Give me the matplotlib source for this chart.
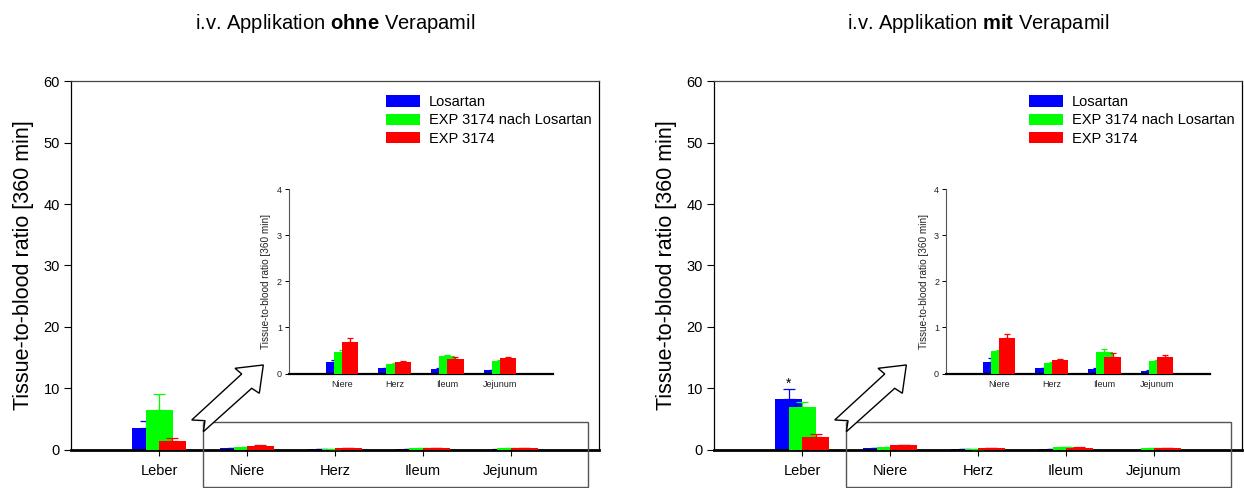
import numpy as np
import matplotlib
matplotlib.use('Agg')
import matplotlib.pyplot as plt
from matplotlib.patches import Polygon, Rectangle

plt.rcParams['font.family'] = ['Liberation Sans', 'DejaVu Sans']
plt.rcParams['mathtext.fontset'] = 'custom'
plt.rcParams['mathtext.rm'] = 'Liberation Sans'
plt.rcParams['mathtext.bf'] = 'Liberation Sans:bold'

organe = ['Leber', 'Niere', 'Herz', 'Ileum', 'Jejunum']
serien = ['Losartan', 'EXP 3174 nach Losartan', 'EXP 3174']
farben = ['#0000ff', '#00ff00', '#ff0000']

# i.v. ohne Verapamil
ohne_losartan = [3.5, 0.25, 0.11, 0.10, 0.07]
ohne_losartan_err = [1.2, 0.04, 0.02, 0.01, 0.01]
ohne_exp_nach = [6.5, 0.47, 0.20, 0.37, 0.27]
ohne_exp_nach_err = [2.6, 0.03, 0.02, 0.03, 0.02]
ohne_exp = [1.5, 0.69, 0.25, 0.31, 0.33]
ohne_exp_err = [0.45, 0.08, 0.02, 0.04, 0.03]

# i.v. mit Verapamil
mit_losartan = [8.3, 0.26, 0.12, 0.10, 0.06]
mit_losartan_err = [1.6, 0.07, 0.01, 0.01, 0.01]
mit_exp_nach = [7.0, 0.48, 0.22, 0.46, 0.27]
mit_exp_nach_err = [0.8, 0.03, 0.02, 0.08, 0.03]
mit_exp = [2.1, 0.78, 0.29, 0.36, 0.36]
mit_exp_err = [0.5, 0.07, 0.03, 0.08, 0.04]

ylabel = 'Tissue-to-blood ratio [360 min]'
breite = 0.307
versatz = [-0.153, 0.0, 0.153]

# Pfeil (Achsenkoordinaten) und Rahmen um die kleinen Werte
pfeil = [(0.3642, 0.2304), (0.3106, 0.2214), (0.3233, 0.2060), (0.2286, 0.0813),
         (0.2538, 0.0794), (0.2506, 0.0496), (0.3422, 0.1672), (0.3566, 0.1537)]


def balken(ax, x, werte, fehler, fs_cap):
    for i, (w, f) in enumerate(zip(werte, fehler)):
        z = 2 + i
        ax.bar(np.asarray(x) + versatz[i], w, breite, color=farben[i], label=serien[i],
               zorder=z, yerr=[np.zeros(len(f)), f],
               error_kw=dict(ecolor=farben[i], elinewidth=0.9, capsize=fs_cap,
                             capthick=0.9, zorder=z + 0.5))


def panel(links, ins_links, titel, werte, fehler, stern=False):
    ax = fig.add_axes([links, 0.0779, 0.4244, 0.7561])
    x = np.arange(len(organe))
    balken(ax, x, werte, fehler, 4)
    ax.set_xlim(-1, 5)
    ax.set_ylim(0, 60)
    ax.set_yticks(np.arange(0, 61, 10))
    ax.set_xticks(x)
    ax.set_xticklabels(organe, fontsize=10.5)
    ax.tick_params(axis='y', labelsize=10.5, length=5, width=0.8, pad=3)
    ax.tick_params(axis='x', length=4, width=0.8, pad=6)
    ax.set_ylabel(ylabel, fontsize=15.5, labelpad=7)
    for s in ['top', 'right', 'left']:
        ax.spines[s].set_linewidth(0.9)
    ax.spines['top'].set_color('#444444')
    ax.spines['bottom'].set_linewidth(2)
    ax.legend(loc='upper left', bbox_to_anchor=(0.596, 0.962), frameon=False,
              fontsize=10.5, handlelength=2.35, handleheight=0.8, labelspacing=0.3,
              handletextpad=0.6, borderaxespad=0, borderpad=0)
    if stern:
        ax.text(x[0] + versatz[0], werte[0][0] + fehler[0][0] + 0.2, '*',
                ha='center', va='baseline', fontsize=10)

    ax.add_patch(Rectangle((0.25, -0.1003), 0.729, 0.1762, transform=ax.transAxes,
                           fill=False, edgecolor='#555555', lw=1, clip_on=False, zorder=10))
    ax.add_patch(Polygon(pfeil, closed=True, transform=ax.transAxes, facecolor='white',
                         edgecolor='black', lw=1, clip_on=False, zorder=11))

    ax.text(0.5, 1.157, titel, transform=ax.transAxes, ha='center', va='center',
            fontsize=14.5)

    # Ausschnitt mit den kleinen Organen
    ins = fig.add_axes([ins_links, 0.2346, 0.2122, 0.378])
    ins.patch.set_alpha(0)
    xi = x[1:]
    balken(ins, xi, [w[1:] for w in werte], [f[1:] for f in fehler], 2.2)
    ins.set_xlim(0, 5)
    ins.set_ylim(0, 4)
    ins.set_yticks(np.arange(0, 5, 1))
    ins.set_xticks(xi)
    ins.set_xticklabels(organe[1:], fontsize=6.5, color='#222222')
    ins.tick_params(axis='y', labelsize=6.5, length=3, width=0.7, pad=2, labelcolor='#222222')
    ins.tick_params(axis='x', length=0, pad=5)
    ins.set_ylabel(ylabel, fontsize=7.2, labelpad=4, color='#222222')
    ins.spines['top'].set_visible(False)
    ins.spines['right'].set_visible(False)
    ins.spines['left'].set_linewidth(0.8)
    ins.spines['left'].set_color('#555555')
    ins.spines['bottom'].set_linewidth(1.6)


fig = plt.figure(figsize=(12.44, 4.88), dpi=100)

panel(0.0571, 0.2323, r'i.v. Applikation $\mathbf{ohne}$ Verapamil',
      [ohne_losartan, ohne_exp_nach, ohne_exp],
      [ohne_losartan_err, ohne_exp_nach_err, ohne_exp_err])
panel(0.5740, 0.7605, r'i.v. Applikation $\mathbf{mit}$ Verapamil',
      [mit_losartan, mit_exp_nach, mit_exp],
      [mit_losartan_err, mit_exp_nach_err, mit_exp_err], stern=True)

fig.savefig('out.png', dpi=100, facecolor='white')
